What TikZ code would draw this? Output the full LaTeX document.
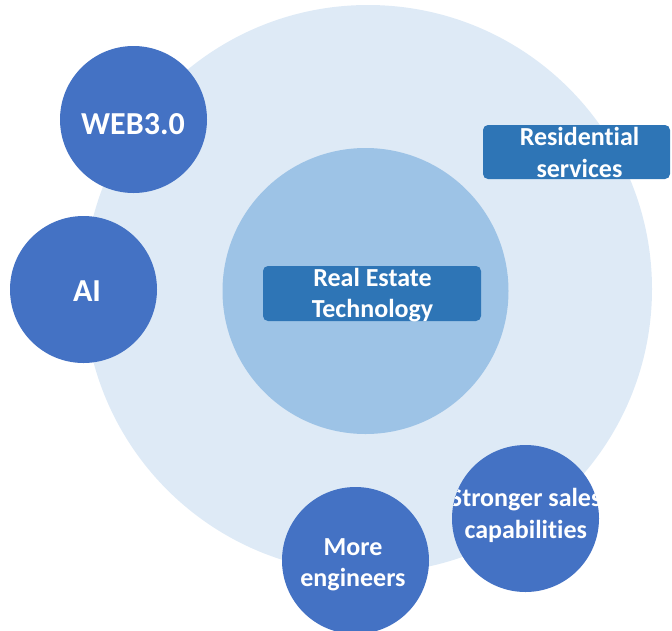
\documentclass[tikz,border=0pt]{standalone}
\usepackage{fontspec}
\setmainfont{Carlito}[Ligatures=NoCommon]
\definecolor{outerc}{HTML}{DEEAF6}
\definecolor{innerc}{HTML}{9DC3E6}
\definecolor{boxc}{HTML}{2E75B6}
\definecolor{dotc}{HTML}{4472C4}
\begin{document}
\begin{tikzpicture}[x=1pt,y=-1pt,
  bubble/.style={circle,fill=dotc,inner sep=0pt,minimum size=147pt},
  tagbox/.style={fill=boxc,rounded corners=5pt},
  lbl/.style={text=white,font=\fontsize{26}{31.5}\selectfont\bfseries,align=center,anchor=base,inner sep=0pt},
  biglbl/.style={text=white,font=\fontsize{32}{38}\selectfont\bfseries,align=center,anchor=base,inner sep=0pt}]
\useasboundingbox (0,0) rectangle (672,630);
% outer and inner discs
\node[circle,fill=outerc,inner sep=0pt,minimum size=568pt] (outer) at (368,289) {};
\node[circle,fill=innerc,inner sep=0pt,minimum size=286pt] (inner) at (365.5,291) {};
% boxes
\fill[tagbox] (263,266) rectangle (481,321);
\node[lbl] (ret) at (372.5,317.5) {Real Estate\\Technology};
\fill[tagbox] (483,125) rectangle (670,179);
\node[lbl] (res) at (579.5,177.2) {Residential\\services};
% bubbles
\node[bubble] (web) at (133.5,119.5) {};
\begin{scope}\clip (web.center) circle (73.5);
\node[biglbl] (webt) at (133,134) {WEB3.0};
\end{scope}
\node[bubble] (ai) at (83.5,289.5) {};
\begin{scope}\clip (ai.center) circle (73.5);
\node[biglbl] (ait) at (87,301) {AI};
\end{scope}
\node[bubble] (eng) at (355.5,560.5) {};
\begin{scope}\clip (eng.center) circle (73.5);
\node[lbl] (engt) at (353,586.5) {More\\engineers};
\end{scope}
\node[bubble] (sal) at (525.5,518.5) {};
\begin{scope}\clip (sal.center) circle (73.5);
\node[lbl] (salt) at (525.7,538.2) {Stronger sales\\capabilities};
\end{scope}
\end{tikzpicture}
\end{document}
